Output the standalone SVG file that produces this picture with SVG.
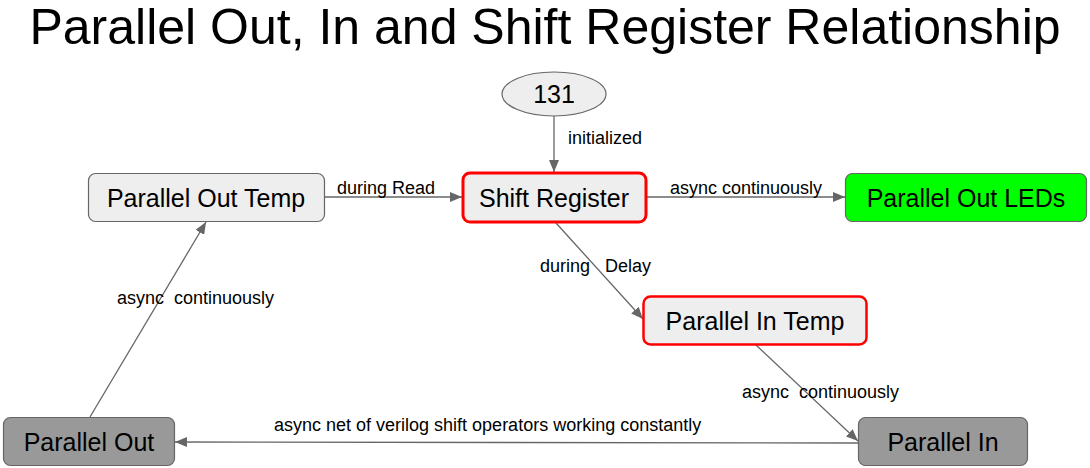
<svg xmlns="http://www.w3.org/2000/svg" width="1090" height="468" viewBox="0 0 1090 468">
<style>
.n{fill:#eeeeee;stroke:#666666;stroke-width:1.2}
.red{stroke:#ff0000;stroke-width:3}
.dark{fill:#999999;stroke:#666666;stroke-width:1.2}
.green{fill:#00ff00;stroke:#666666;stroke-width:1.2}
.t{font-family:"Liberation Sans",Arial,sans-serif;font-size:25px;fill:#000;text-anchor:middle}
.l{font-family:"Liberation Sans",Arial,sans-serif;font-size:18px;fill:#000}
.e{stroke:#666666;stroke-width:1.3;fill:none;marker-end:url(#ah)}
</style>
<defs>
<marker id="ah" viewBox="0 0 12 10" refX="12" refY="5" markerWidth="12" markerHeight="10" markerUnits="userSpaceOnUse" orient="auto">
<path d="M0,0 L12,5 L0,10 z" fill="#666666"/>
</marker>
</defs>
<rect width="1090" height="468" fill="#ffffff"/>
<text x="545" y="44" style="font-family:'Liberation Sans',Arial,sans-serif;font-size:50px;fill:#000;text-anchor:middle">Parallel Out, In and Shift Register Relationship</text>
<g id="connectors">
<line class="e" x1="554" y1="116" x2="554" y2="172"/>
<line class="e" x1="325" y1="197" x2="462" y2="197"/>
<line class="e" x1="647" y1="197" x2="845" y2="197"/>
<line class="e" x1="556" y1="223" x2="643" y2="319"/>
<line class="e" x1="756" y1="345" x2="858" y2="441"/>
<line class="e" x1="858" y1="443" x2="175" y2="442"/>
<line class="e" x1="90" y1="417" x2="206" y2="222"/>
<text class="l" x="568" y="144">initialized</text>
<text class="l" x="337" y="194">during Read</text>
<text class="l" x="670" y="194">async continuously</text>
<text class="l" y="272"><tspan x="540">during</tspan><tspan x="605">Delay</tspan></text>
<text class="l" y="398"><tspan x="742">async</tspan><tspan x="799">continuously</tspan></text>
<text class="l" x="274" y="431">async net of verilog shift operators working constantly</text>
<text class="l" y="304"><tspan x="117">async</tspan><tspan x="174">continuously</tspan></text>
</g>
<g id="n131">
<ellipse class="n" cx="554" cy="94" rx="52" ry="22"/>
<text class="t" x="554" y="103">131</text>
</g>
<g id="shiftRegister">
<rect class="n red" x="463" y="173" width="183" height="49" rx="7"/>
<text class="t" x="554" y="207">Shift Register</text>
</g>
<g id="parallelOutTemp">
<rect class="n" x="88.5" y="173.5" width="236" height="48" rx="7"/>
<text class="t" x="206" y="207">Parallel Out Temp</text>
</g>
<g id="parallelOutLEDs">
<rect class="green" x="845.5" y="173.5" width="241" height="48" rx="7"/>
<text class="t" x="966" y="207">Parallel Out LEDs</text>
</g>
<g id="parallelInTemp">
<rect class="n red" x="643.5" y="296.5" width="223" height="48" rx="7" style="stroke-width:2.5"/>
<text class="t" x="755" y="330">Parallel In Temp</text>
</g>
<g id="parallelOut">
<rect class="dark" x="3.5" y="417.5" width="171" height="48" rx="7"/>
<text class="t" x="89" y="451">Parallel Out</text>
</g>
<g id="parallelIn">
<rect class="dark" x="858.5" y="417.5" width="169" height="48" rx="7"/>
<text class="t" x="943" y="451">Parallel In</text>
</g>
</svg>
